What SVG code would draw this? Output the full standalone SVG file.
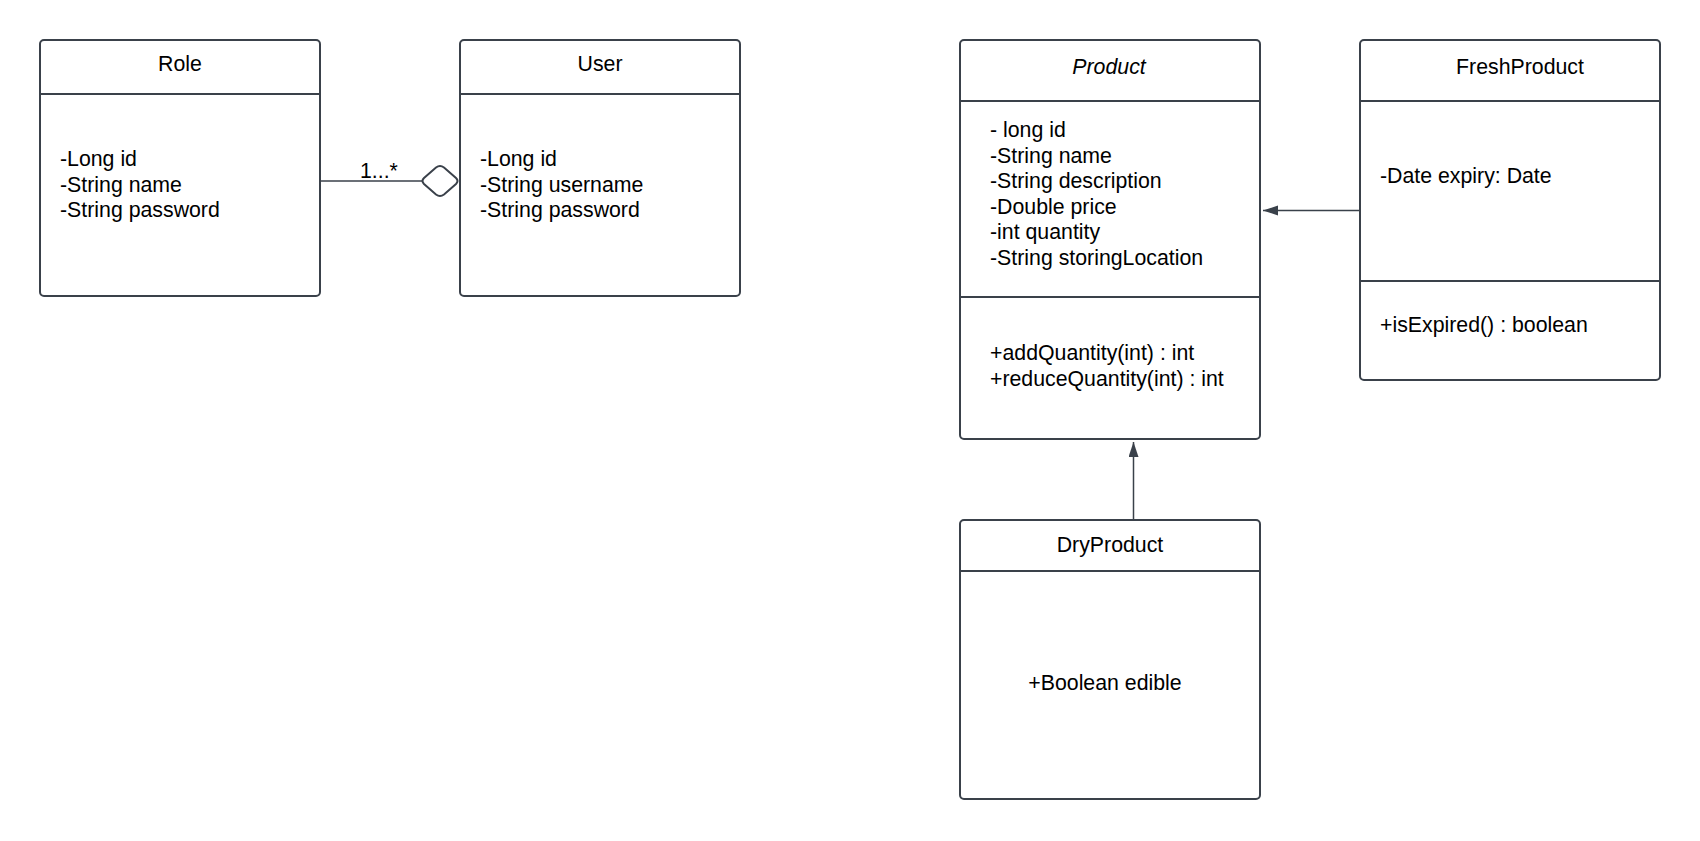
<svg xmlns="http://www.w3.org/2000/svg" width="1700" height="841" viewBox="0 0 1700 841">
<defs>
<style>
.box{fill:#fff;stroke:#3a414a;stroke-width:2}
.sep{stroke:#3a414a;stroke-width:2}
.t{font-family:"Liberation Sans",Arial,sans-serif;font-size:21.3px;fill:#000}
.c{text-anchor:middle}
.conn{stroke:#3a414a;stroke-width:1.5;fill:none}
</style>
<marker id="tri" markerWidth="16" markerHeight="12" refX="15" refY="5" orient="auto" markerUnits="userSpaceOnUse">
<path d="M0,0 L15,5 L0,10 Z" fill="#3a414a"/>
</marker>
</defs>
<rect width="1700" height="841" fill="#fff"/>

<g id="connectors">
<line class="conn" x1="320" y1="181" x2="422" y2="181"/>
<path d="M424,178 L436,167.5 Q440,164.5 444,167.5 L456,178 Q459,181 456,184 L444,194.5 Q440,197.5 436,194.5 L424,184 Q421,181 424,178 Z" fill="#fff" stroke="#3a414a" stroke-width="2"/>
<text class="t" x="360" y="178">1...*</text>
<line class="conn" x1="1360" y1="210.5" x2="1263" y2="210.5" marker-end="url(#tri)"/>
<line class="conn" x1="1133.5" y1="520" x2="1133.5" y2="442" marker-end="url(#tri)"/>
</g>

<g id="Role">
<rect class="box" x="40" y="40" width="280" height="256" rx="4"/>
<line class="sep" x1="40" y1="94" x2="320" y2="94"/>
<text class="t c" x="180" y="71">Role</text>
<text class="t" x="60" y="166">-Long id</text>
<text class="t" x="60" y="191.5">-String name</text>
<text class="t" x="60" y="217">-String password</text>
</g>

<g id="User">
<rect class="box" x="460" y="40" width="280" height="256" rx="4"/>
<line class="sep" x1="460" y1="94" x2="740" y2="94"/>
<text class="t c" x="600" y="71">User</text>
<text class="t" x="480" y="166">-Long id</text>
<text class="t" x="480" y="191.5">-String username</text>
<text class="t" x="480" y="217">-String password</text>
</g>

<g id="Product">
<rect class="box" x="960" y="40" width="300" height="399" rx="4"/>
<line class="sep" x1="960" y1="101" x2="1260" y2="101"/>
<line class="sep" x1="960" y1="297" x2="1260" y2="297"/>
<text class="t c" x="1109" y="74" font-style="italic">Product</text>
<text class="t" x="990" y="137">- long id</text>
<text class="t" x="990" y="162.5">-String name</text>
<text class="t" x="990" y="188">-String description</text>
<text class="t" x="990" y="213.5">-Double price</text>
<text class="t" x="990" y="239">-int quantity</text>
<text class="t" x="990" y="265">-String storingLocation</text>
<text class="t" x="990" y="360">+addQuantity(int) : int</text>
<text class="t" x="990" y="386">+reduceQuantity(int) : int</text>
</g>

<g id="FreshProduct">
<rect class="box" x="1360" y="40" width="300" height="340" rx="4"/>
<line class="sep" x1="1360" y1="101" x2="1660" y2="101"/>
<line class="sep" x1="1360" y1="281" x2="1660" y2="281"/>
<text class="t c" x="1520" y="74">FreshProduct</text>
<text class="t" x="1380" y="183">-Date expiry: Date</text>
<text class="t" x="1380" y="332">+isExpired() : boolean</text>
</g>

<g id="DryProduct">
<rect class="box" x="960" y="520" width="300" height="279" rx="4"/>
<line class="sep" x1="960" y1="571" x2="1260" y2="571"/>
<text class="t c" x="1110" y="551.5">DryProduct</text>
<text class="t c" x="1105" y="690">+Boolean edible</text>
</g>
</svg>
